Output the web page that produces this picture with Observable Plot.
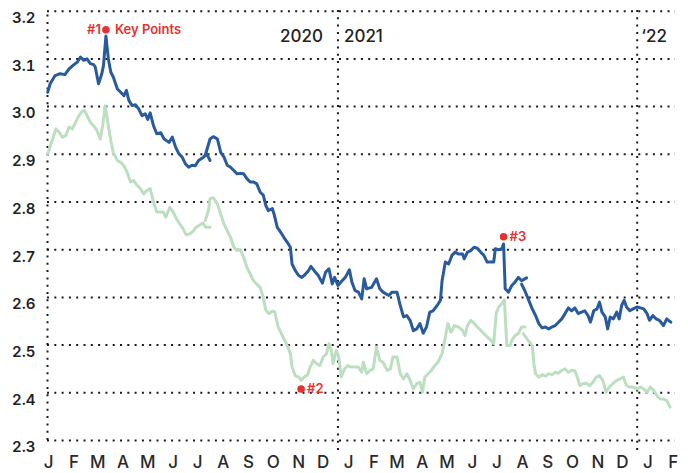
<!DOCTYPE html>
<html>
<head>
<meta charset="utf-8">
<script src="https://cdn.jsdelivr.net/npm/d3@7"></script>
<script src="https://cdn.jsdelivr.net/npm/@observablehq/plot@0.6"></script>
<style>
  html, body { margin: 0; padding: 0; background: #fff; }
  #chart { width: 688px; height: 473px; }
  #chart svg, #chart svg text { font-family: Inter, "Noto Sans", sans-serif; }
</style>
</head>
<body>
<div id="chart"></div>
<script>
// ---- data ----
const blueSeg1 = [["2020-01-13",3.030],["2020-01-16",3.048],["2020-01-22",3.065],["2020-01-28",3.069],["2020-02-03",3.067],["2020-02-08",3.079],["2020-02-14",3.088],["2020-02-18",3.093],["2020-02-22",3.104],["2020-02-26",3.097],["2020-03-01",3.100],["2020-03-05",3.090],["2020-03-09",3.088],["2020-03-11",3.083],["2020-03-15",3.048],["2020-03-19",3.069],["2020-03-21",3.086],["2020-03-24",3.148],["2020-03-27",3.100],["2020-03-30",3.072],["2020-04-02",3.062],["2020-04-07",3.037],["2020-04-11",3.030],["2020-04-15",3.023],["2020-04-18",3.034],["2020-04-21",3.013],["2020-04-25",3.002],["2020-04-29",3.004],["2020-05-03",2.995],["2020-05-07",2.981],["2020-05-11",2.985],["2020-05-14",2.973],["2020-05-17",2.987],["2020-05-21",2.960],["2020-05-25",2.943],["2020-05-30",2.945],["2020-06-03",2.932],["2020-06-09",2.925],["2020-06-13",2.936],["2020-06-17",2.915],["2020-06-21",2.901],["2020-06-25",2.894],["2020-06-29",2.880],["2020-07-03",2.873],["2020-07-07",2.877],["2020-07-11",2.876],["2020-07-15",2.887],["2020-07-21",2.894],["2020-07-25",2.901],["2020-07-29",2.887]];
const blueSeg2 = [["2020-07-23",2.897],["2020-07-29",2.932],["2020-08-02",2.937],["2020-08-07",2.932],["2020-08-11",2.904],["2020-08-15",2.894],["2020-08-19",2.877],["2020-08-23",2.873],["2020-08-27",2.866],["2020-08-31",2.859],["2020-09-04",2.860],["2020-09-08",2.859],["2020-09-12",2.849],["2020-09-16",2.842],["2020-09-20",2.842],["2020-09-24",2.838],["2020-09-28",2.821],["2020-10-02",2.814],["2020-10-05",2.793],["2020-10-08",2.782],["2020-10-13",2.786],["2020-10-15",2.775],["2020-10-19",2.747],["2020-10-23",2.737],["2020-10-27",2.726],["2020-10-31",2.716],["2020-11-04",2.705],["2020-11-06",2.670],["2020-11-10",2.656],["2020-11-14",2.646],["2020-11-18",2.642],["2020-11-22",2.648],["2020-11-26",2.656],["2020-11-29",2.665],["2020-12-03",2.656],["2020-12-08",2.646],["2020-12-13",2.630],["2020-12-17",2.653],["2020-12-21",2.660],["2020-12-25",2.628],["2020-12-28",2.642],["2021-01-01",2.625],["2021-01-06",2.635],["2021-01-10",2.642],["2021-01-15",2.658],["2021-01-18",2.632],["2021-01-22",2.614],["2021-01-26",2.611],["2021-01-30",2.597],["2021-02-02",2.639],["2021-02-05",2.618],["2021-02-11",2.621],["2021-02-17",2.639],["2021-02-21",2.618],["2021-02-25",2.611],["2021-03-04",2.604],["2021-03-08",2.611],["2021-03-14",2.611],["2021-03-18",2.583],["2021-03-22",2.559],["2021-03-26",2.562],["2021-03-30",2.552],["2021-04-03",2.530],["2021-04-07",2.534],["2021-04-11",2.545],["2021-04-15",2.525],["2021-04-19",2.538],["2021-04-23",2.569],["2021-04-27",2.572],["2021-05-02",2.583],["2021-05-06",2.594],["2021-05-08",2.635],["2021-05-12",2.674],["2021-05-16",2.670],["2021-05-20",2.688],["2021-05-24",2.695],["2021-05-28",2.691],["2021-06-02",2.691],["2021-06-04",2.681],["2021-06-08",2.695],["2021-06-12",2.698],["2021-06-16",2.705],["2021-06-20",2.703],["2021-06-24",2.695],["2021-06-28",2.688],["2021-07-02",2.674],["2021-07-06",2.674],["2021-07-10",2.674],["2021-07-12",2.702],["2021-07-16",2.700],["2021-07-20",2.702],["2021-07-22",2.712],["2021-07-24",2.618],["2021-07-28",2.611],["2021-08-01",2.625],["2021-08-05",2.632],["2021-08-09",2.642],["2021-08-13",2.635],["2021-08-19",2.641]];
const blueSeg3 = [["2021-08-13",2.628],["2021-08-17",2.614],["2021-08-21",2.597],["2021-08-26",2.576],["2021-08-30",2.562],["2021-09-03",2.545],["2021-09-07",2.536],["2021-09-11",2.538],["2021-09-15",2.534],["2021-09-19",2.538],["2021-09-23",2.541],["2021-09-27",2.548],["2021-10-01",2.555],["2021-10-05",2.566],["2021-10-09",2.578],["2021-10-13",2.572],["2021-10-17",2.578],["2021-10-21",2.566],["2021-10-25",2.569],["2021-10-29",2.572],["2021-11-02",2.562],["2021-11-05",2.548],["2021-11-09",2.572],["2021-11-13",2.576],["2021-11-16",2.590],["2021-11-19",2.569],["2021-11-23",2.559],["2021-11-26",2.534],["2021-11-29",2.559],["2021-12-03",2.555],["2021-12-07",2.569],["2021-12-10",2.555],["2021-12-13",2.583],["2021-12-16",2.594],["2021-12-19",2.580],["2021-12-23",2.572],["2021-12-27",2.576],["2022-01-01",2.580],["2022-01-05",2.578],["2022-01-09",2.576],["2022-01-13",2.566],["2022-01-16",2.552],["2022-01-20",2.562],["2022-01-24",2.555],["2022-01-28",2.552],["2022-02-02",2.541],["2022-02-06",2.555],["2022-02-11",2.548]];

const greenSeg1 = [["2020-01-13",2.901],["2020-01-15",2.911],["2020-01-19",2.932],["2020-01-23",2.953],["2020-01-27",2.946],["2020-01-31",2.936],["2020-02-04",2.939],["2020-02-08",2.957],["2020-02-12",2.953],["2020-02-16",2.967],["2020-02-20",2.981],["2020-02-24",2.990],["2020-02-27",2.992],["2020-03-01",2.981],["2020-03-05",2.967],["2020-03-09",2.960],["2020-03-13",2.950],["2020-03-17",2.932],["2020-03-20",2.960],["2020-03-23",3.002],["2020-03-27",2.960],["2020-03-30",2.929],["2020-04-02",2.904],["2020-04-07",2.887],["2020-04-11",2.883],["2020-04-15",2.876],["2020-04-19",2.862],["2020-04-23",2.842],["2020-04-27",2.845],["2020-05-01",2.835],["2020-05-05",2.828],["2020-05-09",2.817],["2020-05-13",2.824],["2020-05-17",2.828],["2020-05-21",2.800],["2020-05-25",2.779],["2020-05-29",2.779],["2020-06-02",2.779],["2020-06-05",2.768],["2020-06-10",2.789],["2020-06-14",2.779],["2020-06-18",2.765],["2020-06-22",2.754],["2020-06-26",2.744],["2020-06-30",2.731],["2020-07-04",2.733],["2020-07-08",2.738],["2020-07-12",2.747],["2020-07-16",2.751],["2020-07-20",2.756],["2020-07-24",2.747],["2020-07-29",2.747]];
const greenSeg2 = [["2020-07-23",2.761],["2020-07-27",2.782],["2020-07-29",2.807],["2020-08-02",2.809],["2020-08-07",2.796],["2020-08-11",2.775],["2020-08-15",2.754],["2020-08-19",2.740],["2020-08-23",2.726],["2020-08-27",2.705],["2020-08-31",2.698],["2020-09-04",2.700],["2020-09-08",2.684],["2020-09-12",2.663],["2020-09-16",2.649],["2020-09-20",2.635],["2020-09-24",2.628],["2020-09-28",2.621],["2020-10-02",2.600],["2020-10-05",2.573],["2020-10-09",2.566],["2020-10-13",2.571],["2020-10-16",2.570],["2020-10-20",2.538],["2020-10-24",2.524],["2020-10-28",2.510],["2020-11-01",2.496],["2020-11-04",2.482],["2020-11-06",2.454],["2020-11-10",2.436],["2020-11-14",2.433],["2020-11-17",2.426],["2020-11-21",2.433],["2020-11-25",2.438],["2020-11-28",2.454],["2020-12-02",2.468],["2020-12-06",2.461],["2020-12-10",2.457],["2020-12-14",2.475],["2020-12-18",2.482],["2020-12-21",2.503],["2020-12-24",2.489],["2020-12-26",2.461],["2020-12-30",2.489],["2021-01-02",2.475],["2021-01-05",2.433],["2021-01-09",2.450],["2021-01-13",2.457],["2021-01-17",2.454],["2021-01-22",2.454],["2021-01-26",2.454],["2021-01-30",2.443],["2021-02-01",2.464],["2021-02-05",2.440],["2021-02-09",2.447],["2021-02-13",2.450],["2021-02-17",2.496],["2021-02-21",2.468],["2021-02-25",2.464],["2021-03-02",2.447],["2021-03-06",2.450],["2021-03-09",2.475],["2021-03-14",2.475],["2021-03-18",2.440],["2021-03-22",2.429],["2021-03-26",2.440],["2021-03-30",2.426],["2021-04-03",2.408],["2021-04-07",2.419],["2021-04-11",2.422],["2021-04-14",2.401],["2021-04-17",2.433],["2021-04-21",2.440],["2021-04-25",2.447],["2021-04-29",2.457],["2021-05-03",2.464],["2021-05-08",2.482],["2021-05-12",2.517],["2021-05-15",2.545],["2021-05-19",2.527],["2021-05-23",2.541],["2021-05-28",2.538],["2021-06-02",2.531],["2021-06-05",2.520],["2021-06-08",2.541],["2021-06-12",2.552],["2021-06-16",2.546],["2021-06-20",2.538],["2021-06-24",2.531],["2021-06-28",2.524],["2021-07-02",2.517],["2021-07-06",2.511],["2021-07-10",2.503],["2021-07-13",2.566],["2021-07-16",2.580],["2021-07-20",2.587],["2021-07-23",2.595],["2021-07-26",2.499],["2021-07-30",2.499],["2021-08-01",2.510],["2021-08-05",2.520],["2021-08-09",2.524],["2021-08-13",2.538],["2021-08-17",2.538]];
const greenSeg3 = [["2021-08-15",2.524],["2021-08-21",2.510],["2021-08-26",2.499],["2021-08-28",2.461],["2021-08-30",2.440],["2021-09-03",2.433],["2021-09-07",2.438],["2021-09-11",2.435],["2021-09-15",2.440],["2021-09-19",2.438],["2021-09-23",2.443],["2021-09-27",2.441],["2021-10-01",2.447],["2021-10-05",2.450],["2021-10-09",2.443],["2021-10-13",2.447],["2021-10-17",2.446],["2021-10-20",2.433],["2021-10-23",2.415],["2021-10-27",2.419],["2021-10-31",2.420],["2021-11-04",2.415],["2021-11-08",2.422],["2021-11-12",2.433],["2021-11-16",2.436],["2021-11-20",2.426],["2021-11-24",2.401],["2021-11-28",2.412],["2021-12-02",2.419],["2021-12-07",2.426],["2021-12-11",2.429],["2021-12-15",2.433],["2021-12-19",2.415],["2021-12-23",2.412],["2021-12-27",2.412],["2022-01-01",2.408],["2022-01-05",2.412],["2022-01-09",2.408],["2022-01-13",2.401],["2022-01-17",2.412],["2022-01-21",2.405],["2022-01-25",2.394],["2022-01-29",2.387],["2022-02-02",2.387],["2022-02-06",2.384],["2022-02-10",2.370]];

const yTicks = [2.3, 2.4, 2.5, 2.6, 2.7, 2.8, 2.9, 3.0, 3.1, 3.2];
const monthLetters = ["J","F","M","A","M","J","J","A","S","O","N","D"];
const yearLabels = ["2020", "2021", "\u201822"];
const yearDates = ["2021-01-01", "2021-01-01", "2022-01-01"];
const yearBoundaries = ["2021-01-01", "2022-01-01"];
const keyPointLabels = ["#1", "#2", "#3"];
const keyPointDates = ["2020-03-24", "2020-11-17", "2021-07-22"];
const keyPointValues = [3.161, 2.408, 2.727];
const keyPointsTitle = "Key Points";

// ---- build tables ----
const toRows = (seg, series, id) => seg.map(([d, v]) => ({date: new Date(d), value: v, series, seg: series + id}));
const greenRows = [...toRows(greenSeg1, "green", 1), ...toRows(greenSeg2, "green", 2), ...toRows(greenSeg3, "green", 3)];
const blueRows = [...toRows(blueSeg1, "blue", 1), ...toRows(blueSeg2, "blue", 2), ...toRows(blueSeg3, "blue", 3)];

const xStart = new Date("2020-01-12T18:00Z");
const xEnd = new Date("2022-02-16T17:00Z");
const monthTicks = d3.utcMonth.range(new Date("2020-01-01"), new Date("2022-03-01")).map(d => d3.utcDay.offset(d, 13));

const keyPoints = keyPointLabels.map((label, i) => ({label, date: new Date(keyPointDates[i]), value: keyPointValues[i]}));
const years = yearLabels.map((label, i) => ({label, date: new Date(yearDates[i])}));
const yearY = 3.146;

const font = "Inter, 'Noto Sans', sans-serif";
const red = "#e63130";
const dotted = {stroke: "#1a1a1a", strokeWidth: 2, strokeDasharray: "2,5.3"};
const yearText = {x: "date", y: yearY, text: "label", fontSize: 17, fontWeight: 500, fill: "#222", fontFamily: font};
const redText = {x: "date", y: "value", text: "label", fill: red, fontSize: 13, fontWeight: 600, fontFamily: font};

const chart = Plot.plot({
  width: 688,
  height: 473,
  marginLeft: 47,
  marginRight: 13,
  marginTop: 10.7,
  marginBottom: 33,
  style: {fontFamily: font, background: "#fff", overflow: "visible"},
  x: {type: "utc", domain: [xStart, xEnd]},
  y: {domain: [2.3, 3.2]},
  marks: [
    Plot.ruleY(yTicks, {...dotted}),
    Plot.ruleX([xStart], {...dotted, y1: 2.3, y2: 3.2}),
    Plot.ruleX(yearBoundaries.map(d => new Date(d)), {...dotted, y1: 2.279, y2: 3.206}),
    Plot.axisY(yTicks, {tickSize: 0, tickPadding: 12, tickFormat: d3.format(".1f"), fontSize: 15, fontWeight: 600, fill: "#222", dy: 7, label: null, fontFamily: font}),
    Plot.axisX(monthTicks, {tickSize: 0, tickPadding: 15, tickFormat: d => monthLetters[d.getUTCMonth()], fontSize: 17, fontWeight: 500, fill: "#2a2a2a", label: null, fontFamily: font}),
    Plot.line(greenRows, {x: "date", y: "value", z: "seg", stroke: "#bcdfc1", strokeWidth: 3, strokeLinejoin: "round", strokeLinecap: "round"}),
    Plot.line(blueRows, {x: "date", y: "value", z: "seg", stroke: "#2a5a9e", strokeWidth: 3, strokeLinejoin: "round", strokeLinecap: "round"}),
    Plot.text(years.slice(0, 1), {...yearText, textAnchor: "end", dx: -15}),
    Plot.text(years.slice(1, 2), {...yearText, textAnchor: "start", dx: 6}),
    Plot.text(years.slice(2, 3), {...yearText, textAnchor: "start", dx: 4}),
    Plot.dot(keyPoints, {x: "date", y: "value", r: 3.8, fill: red, stroke: null}),
    Plot.text(keyPoints.slice(0, 1), {...redText, textAnchor: "end", dx: -5}),
    Plot.text(keyPoints.slice(0, 1), {...redText, text: () => keyPointsTitle, textAnchor: "start", dx: 9}),
    Plot.text(keyPoints.slice(1), {...redText, textAnchor: "start", dx: 6})
  ]
});
document.getElementById("chart").appendChild(chart);
</script>
</body>
</html>
